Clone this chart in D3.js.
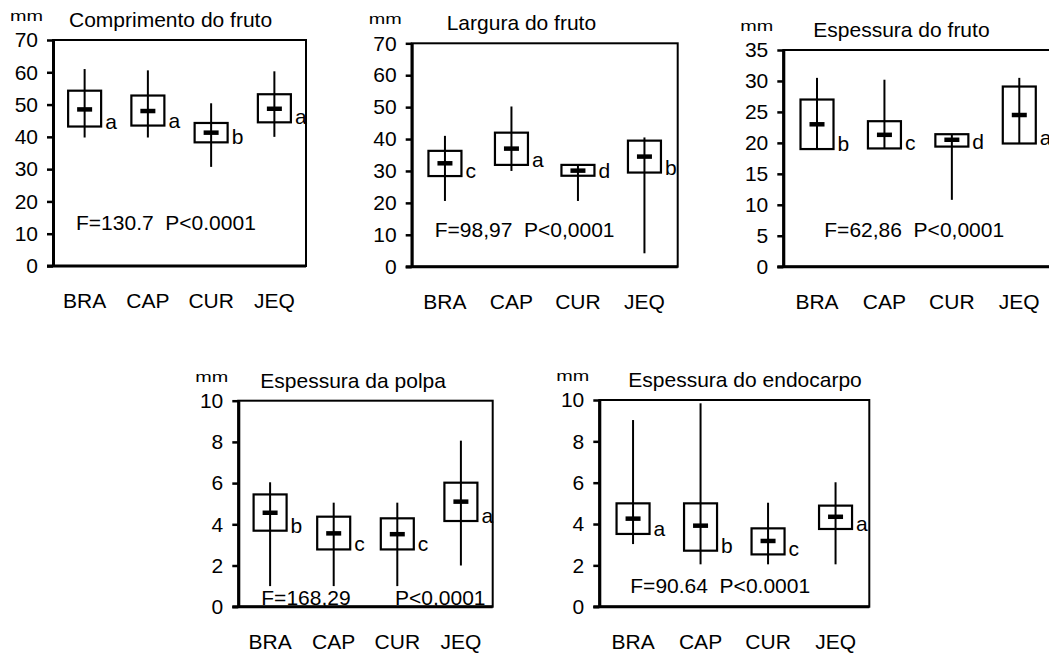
<!DOCTYPE html>
<html>
<head>
<meta charset="utf-8">
<script src="https://cdn.jsdelivr.net/npm/d3@7"></script>
<style>
  body { margin: 0; background: #fff; }
  svg text { font-family: "Liberation Sans", Arial, sans-serif; fill: #000; white-space: pre; }
</style>
</head>
<body>
<script>
// sites on the x axis
const sites = ['BRA', 'CAP', 'CUR', 'JEQ'];
const titles = ['Comprimento do fruto', 'Largura do fruto', 'Espessura do fruto',
                'Espessura da polpa', 'Espessura do endocarpo'];
const yMaxes = [70, 70, 35, 10, 10];
const ySteps = [10, 10, 5, 2, 2];

// Comprimento do fruto
const compLow = [39.8, 39.8, 30.7, 40.0];
const compQ1 = [43.2, 43.5, 38.3, 44.5];
const compMed = [48.5, 48.0, 41.3, 48.7];
const compQ3 = [54.3, 52.8, 44.3, 53.2];
const compHigh = [61.0, 60.6, 50.4, 60.3];
const compLetters = ['a', 'a', 'b', 'a'];

// Largura do fruto
const largLow = [20.6, 30.0, 20.6, 4.2];
const largQ1 = [28.4, 31.9, 28.5, 29.5];
const largMed = [32.4, 37.0, 30.1, 34.5];
const largQ3 = [36.3, 42.0, 31.9, 39.5];
const largHigh = [41.0, 50.2, 31.9, 40.5];
const largLetters = ['c', 'a', 'd', 'b'];

// Espessura do fruto
const espLow = [19.0, 19.1, 10.8, 19.9];
const espQ1 = [19.0, 19.1, 19.4, 19.9];
const espMed = [23.0, 21.3, 20.5, 24.5];
const espQ3 = [27.0, 23.5, 21.4, 29.1];
const espHigh = [30.5, 30.2, 21.4, 30.5];
const espLetters = ['b', 'c', 'd', 'a'];

// Espessura da polpa
const polpaLow = [1.0, 1.0, 1.0, 2.0];
const polpaQ1 = [3.69, 2.78, 2.78, 4.16];
const polpaMed = [4.56, 3.56, 3.52, 5.1];
const polpaQ3 = [5.45, 4.37, 4.29, 6.02];
const polpaHigh = [6.04, 5.05, 5.05, 8.06];
const polpaLetters = ['b', 'c', 'c', 'a'];

// Espessura do endocarpo
const endoLow = [3.03, 2.05, 2.05, 2.05];
const endoQ1 = [3.52, 2.71, 2.53, 3.76];
const endoMed = [4.26, 3.92, 3.18, 4.35];
const endoQ3 = [5.0, 5.0, 3.79, 4.89];
const endoHigh = [9.03, 9.84, 5.03, 6.02];
const endoLetters = ['a', 'b', 'c', 'a'];

const statTexts = [
  ['F=130.7  P<0.0001'],
  ['F=98,97  P<0,0001'],
  ['F=62,86  P<0,0001'],
  ['F=168,29', 'P<0,0001'],
  ['F=90.64  P<0.0001']
];

const series = [
  [compLow, compQ1, compMed, compQ3, compHigh, compLetters],
  [largLow, largQ1, largMed, largQ3, largHigh, largLetters],
  [espLow, espQ1, espMed, espQ3, espHigh, espLetters],
  [polpaLow, polpaQ1, polpaMed, polpaQ3, polpaHigh, polpaLetters],
  [endoLow, endoQ1, endoMed, endoQ3, endoHigh, endoLetters]
];

// frame boxes in page pixels, title offset, stat text offsets (dx from left, dy up from bottom)
const layout = [
  { x0: 53, x1: 306, y0: 40, y1: 266, titleDx: 16, stat: [[23, 36]] },
  { x0: 411.7, x1: 677.7, y0: 43.3, y1: 266.7, titleDx: 35, stat: [[23, 30]] },
  { x0: 783.3, x1: 1053, y0: 50, y1: 266.7, titleDx: 30, stat: [[41, 30]] },
  { x0: 238.3, x1: 492.7, y0: 400.7, y1: 606.7, titleDx: 22, stat: [[23, 1.7], [156.7, 1.7]] },
  { x0: 599.3, x1: 869.3, y0: 400, y1: 606.7, titleDx: 29, stat: [[31, 13.7]] }
];

const W = 1049, H = 653;
const boxW = 33, medW = 15, fs = 21;

const svg = d3.select('body').append('svg')
    .attr('width', W)
    .attr('height', H);

layout.forEach((L, i) => {
    const [low, q1, med, q3, high, letters] = series[i];
    const g = svg.append('g');

    const x = d3.scalePoint().domain(sites).range([L.x0, L.x1]).padding(0.5);
    const y = d3.scaleLinear().domain([0, yMaxes[i]]).range([L.y1, L.y0]);

    // stat text first so the axis line sits over it
    statTexts[i].forEach((t, k) => {
        g.append('text')
            .attr('x', L.x0 + L.stat[k][0])
            .attr('y', L.y1 - L.stat[k][1])
            .attr('font-size', fs)
            .text(t);
    });

    // frame
    g.append('rect')
        .attr('x', L.x0).attr('y', L.y0)
        .attr('width', L.x1 - L.x0).attr('height', L.y1 - L.y0)
        .attr('fill', 'none').attr('stroke', '#000').attr('stroke-width', 2);

    const yAxis = g.append('g')
        .attr('transform', `translate(${L.x0},0)`)
        .call(d3.axisLeft(y)
            .tickValues(d3.range(0, yMaxes[i] + ySteps[i] / 2, ySteps[i]))
            .tickSize(6).tickSizeOuter(0).tickPadding(9));
    yAxis.select('.domain').attr('stroke-width', 3);
    yAxis.selectAll('.tick line').attr('stroke-width', 2.5);
    yAxis.selectAll('.tick text')
        .attr('font-size', fs)
        .attr('font-family', '"Liberation Sans", Arial, sans-serif')
        .attr('fill', '#000');

    // bottom line
    g.append('line')
        .attr('x1', L.x0 - 6).attr('x2', L.x1)
        .attr('y1', L.y1).attr('y2', L.y1)
        .attr('stroke', '#000').attr('stroke-width', 3);

    // x labels
    g.selectAll('.xlab')
        .data(sites)
        .enter()
        .append('text')
        .attr('x', d => x(d))
        .attr('y', L.y1 + 42)
        .attr('text-anchor', 'middle')
        .attr('font-size', fs)
        .text(d => d);

    // boxes
    sites.forEach((s, j) => {
        const cx = x(s);
        g.append('line')
            .attr('x1', cx).attr('x2', cx)
            .attr('y1', y(high[j])).attr('y2', y(low[j]))
            .attr('stroke', '#000').attr('stroke-width', 2);
        g.append('rect')
            .attr('x', cx - boxW / 2).attr('y', y(q3[j]))
            .attr('width', boxW).attr('height', y(q1[j]) - y(q3[j]))
            .attr('fill', 'none').attr('stroke', '#000').attr('stroke-width', 2.2);
        g.append('line')
            .attr('x1', cx - medW / 2).attr('x2', cx + medW / 2)
            .attr('y1', y(med[j])).attr('y2', y(med[j]))
            .attr('stroke', '#000').attr('stroke-width', 4.5);
        g.append('text')
            .attr('x', cx + boxW / 2 + 4)
            .attr('y', y(q1[j]) + 2)
            .attr('font-size', fs)
            .text(letters[j]);
    });

    // unit and title
    g.append('text')
        .attr('x', L.x0 - 10)
        .attr('y', L.y0 - 19)
        .attr('text-anchor', 'end')
        .attr('font-size', 14)
        .attr('textLength', 33)
        .attr('lengthAdjust', 'spacingAndGlyphs')
        .text('mm');
    g.append('text')
        .attr('x', L.x0 + L.titleDx)
        .attr('y', L.y0 - 13)
        .attr('font-size', fs)
        .text(titles[i]);
});
</script>
</body>
</html>
